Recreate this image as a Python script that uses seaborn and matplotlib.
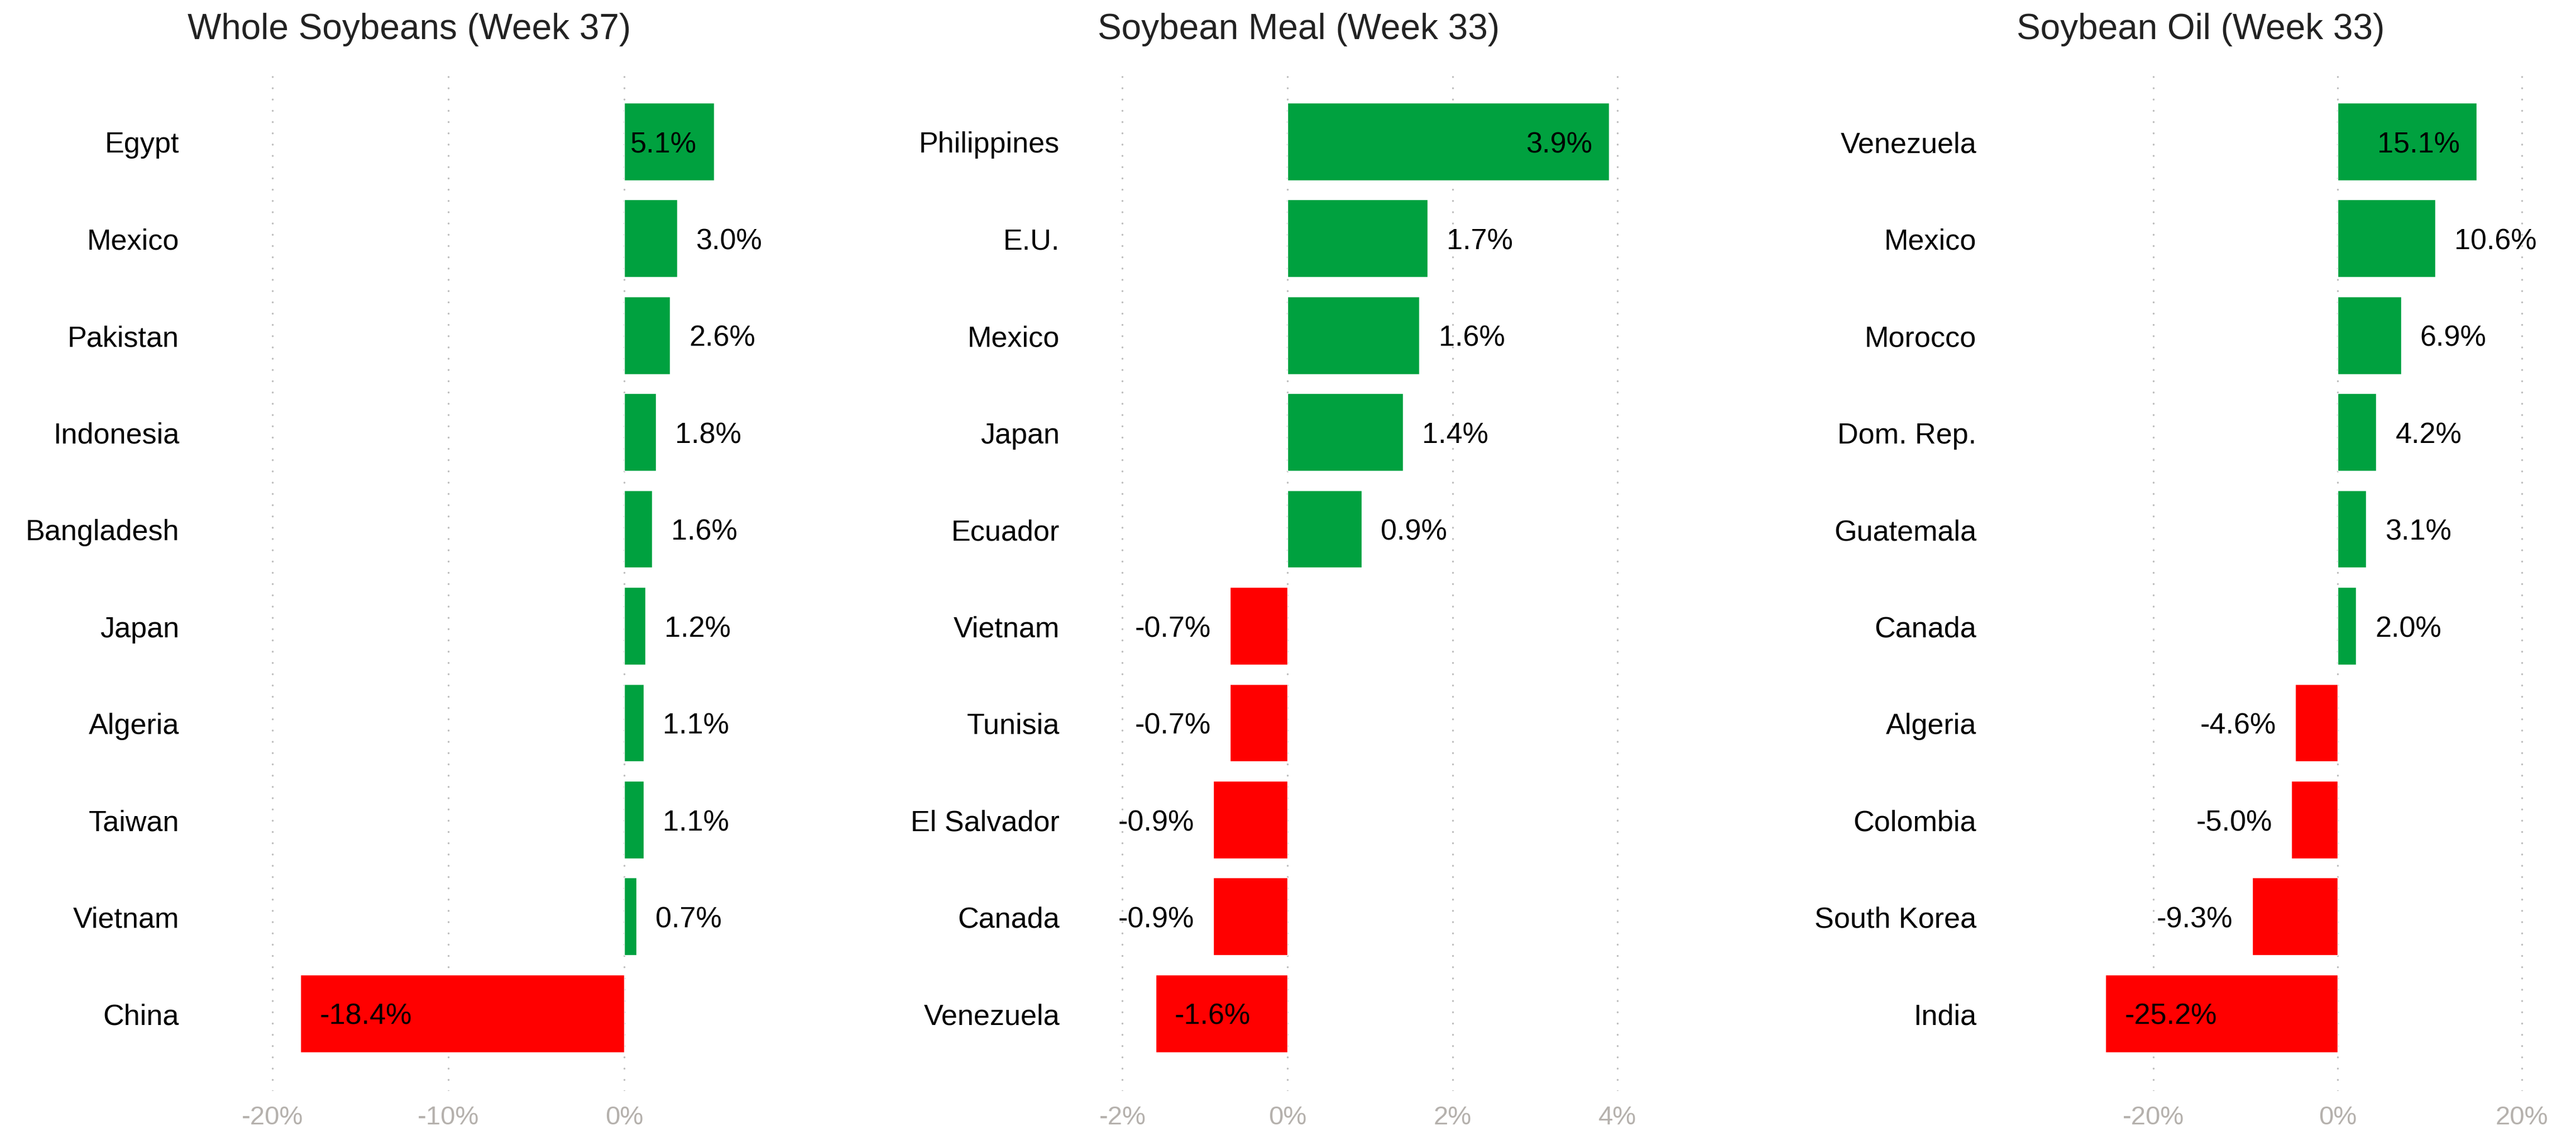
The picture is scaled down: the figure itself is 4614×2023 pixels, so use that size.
import matplotlib
matplotlib.use("Agg")
import matplotlib.pyplot as plt
from matplotlib.ticker import MultipleLocator, FuncFormatter
import seaborn as sns
import pandas as pd

# Week-over-week change in export sales by destination (%)
soybean_countries = ["Egypt", "Mexico", "Pakistan", "Indonesia", "Bangladesh",
                     "Japan", "Algeria", "Taiwan", "Vietnam", "China"]
soybean_change = [5.1, 3.0, 2.6, 1.8, 1.6, 1.2, 1.1, 1.1, 0.7, -18.4]

meal_countries = ["Philippines", "E.U.", "Mexico", "Japan", "Ecuador",
                  "Vietnam", "Tunisia", "El Salvador", "Canada", "Venezuela"]
meal_change = [3.9, 1.7, 1.6, 1.4, 0.9, -0.7, -0.7, -0.9, -0.9, -1.6]

oil_countries = ["Venezuela", "Mexico", "Morocco", "Dom. Rep.", "Guatemala",
                 "Canada", "Algeria", "Colombia", "South Korea", "India"]
oil_change = [15.1, 10.6, 6.9, 4.2, 3.1, 2.0, -4.6, -5.0, -9.3, -25.2]

titles = ["Whole Soybeans (Week 37)", "Soybean Meal (Week 33)", "Soybean Oil (Week 33)"]

GREEN = "#00a13f"
RED = "#ff0000"
TICK_GREY = "#b5b1ad"
GRID_GREY = "#bdbdbd"

sns.set_theme(style="white")
plt.rcParams["font.family"] = ["Liberation Sans", "DejaVu Sans"]
plt.rcParams["axes.unicode_minus"] = False

W, H = 4614, 2024
fig = plt.figure(figsize=(W / 100, H / 100), dpi=100)

# panel layout in pixels: left edge, right edge, x-limits, tick step, title centre
panels = [
    dict(countries=soybean_countries, values=soybean_change, left=335, right=1401.5,
         xlim=(-24.86, 9.0), step=10, title_x=733),
    dict(countries=meal_countries, values=meal_change, left=1912, right=3045,
         xlim=(-2.666, 5.0), step=2, title_x=2326),
    dict(countries=oil_countries, values=oil_change, left=3554, right=4599.5,
         xlim=(-38.36, 25.0), step=20, title_x=3942),
]

top_px, bottom_px = 133, 1954
pct = FuncFormatter(lambda v, _: f"{v:.0f}%")
LABEL_SIZE = 37.5
# shift so the digits (cap height ~0.716 em) sit centred on the bar
baseline_shift = -0.358 * LABEL_SIZE

for p, title in zip(panels, titles):
    ax = fig.add_axes([p["left"] / W, 1 - bottom_px / H,
                       (p["right"] - p["left"]) / W, (bottom_px - top_px) / H])
    df = pd.DataFrame({"country": p["countries"], "change": p["values"]})
    df["direction"] = ["up" if v >= 0 else "down" for v in df["change"]]

    sns.barplot(data=df, x="change", y="country", hue="direction",
                palette={"up": GREEN, "down": RED}, order=p["countries"],
                dodge=False, legend=False, width=0.8, saturation=1,
                orient="h", ax=ax)

    ax.set_xlim(*p["xlim"])
    ax.set_ylim(9.8, -0.7)
    ax.xaxis.set_major_locator(MultipleLocator(p["step"]))
    ax.xaxis.set_major_formatter(pct)
    ax.set_axisbelow(True)
    ax.grid(axis="x", color=GRID_GREY, linestyle=(0, (0.01, 5.8)),
            linewidth=2.5, dash_capstyle="round")
    ax.grid(axis="y", visible=False)
    for s in ax.spines.values():
        s.set_visible(False)
    ax.set_xlabel("")
    ax.set_ylabel("")
    ax.tick_params(axis="y", length=0, pad=10, labelsize=LABEL_SIZE, labelcolor="black")
    ax.tick_params(axis="x", length=0, pad=18, labelsize=34, labelcolor=TICK_GREY)

    vmax, vmin = max(p["values"]), min(p["values"])
    for i, v in enumerate(p["values"]):
        inside = v == vmax or v == vmin
        if v >= 0:
            dx, ha = (-22, "right") if inside else (24.5, "left")
        else:
            dx, ha = (24.5, "left") if inside else (-24.5, "right")
        ax.annotate(f"{v:.1f}%", xy=(v, i), xytext=(dx, baseline_shift),
                    textcoords="offset points", ha=ha, va="baseline",
                    fontsize=LABEL_SIZE, color="black")

    fig.text(p["title_x"] / W, 1 - 70 / H, title, ha="center", va="baseline",
             fontsize=46, color="#222222")

fig.savefig("out.png", dpi=100)
